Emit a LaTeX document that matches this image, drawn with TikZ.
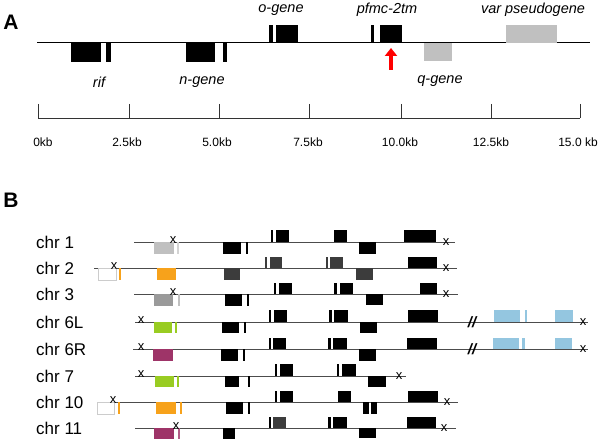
\documentclass[tikz,border=0pt]{standalone}
\usepackage{fontspec}
\setmainfont{Liberation Sans}
\usepackage{tikz}
\usetikzlibrary{arrows.meta, positioning}

\definecolor{lgray}{HTML}{C0C0C0}
\definecolor{mgray}{HTML}{9A9A9A}
\definecolor{dgray}{HTML}{3C3C3C}
\definecolor{orng}{HTML}{F7A21B}
\definecolor{grn}{HTML}{99CC22}
\definecolor{mrn}{HTML}{9E3468}
\definecolor{lblue}{HTML}{94C6E0}
\definecolor{redarrow}{HTML}{FF0000}

\begin{document}
\begin{tikzpicture}[x=1pt, y=-1pt, >=stealth,
    panel/.style={font=\fontsize{21}{24}\selectfont\bfseries, inner sep=0pt},
    glabel/.style={font=\fontsize{14.5}{17}\selectfont\itshape, inner sep=0pt},
    kb/.style={font=\fontsize{12}{14}\selectfont, inner sep=0pt},
    chrlabel/.style={anchor=west, inner sep=0pt, font=\fontsize{17}{20}\selectfont},
    chrline/.style={draw=black!70, line width=0.9pt},
    xmark/.style={inner sep=0pt, font=\fontsize{13}{15}\selectfont},
    brk/.style={inner sep=0pt, font=\fontsize{15}{17}\selectfont\bfseries\itshape},
    endbox/.style={draw=black!20, fill=white, line width=0.6pt}]

        \useasboundingbox (0,0) rectangle (600,441);

        % ==========================================
        % PANEL A: gene map of the locus
        % ==========================================
        \node[panel] (labA) at (11,22) {A};

        % Backbone
        \coordinate (gs) at (37,43);
        \coordinate (ge) at (590,43);
        \draw[line width=1pt] (gs) -- (ge);

        % rif (below)
        \fill (71,43) rectangle (101,62);
        \fill (106,43) rectangle (111,62);
        \node[glabel] (rif) at (99,82) {rif};

        % n-gene (below)
        \fill (186,43) rectangle (215,62);
        \fill (223,43) rectangle (227,62);
        \node[glabel] (ngene) at (202,82) {n-gene};

        % o-gene (above)
        \fill (269,25) rectangle (273,43);
        \fill (276,25) rectangle (298,43);
        \node[glabel] (ogene) at (281,10) {o-gene};

        % pfmc-2tm (above)
        \fill (371,25) rectangle (374,43);
        \fill (380,25) rectangle (402,43);
        \node[glabel] (pfmc) at (387,10) {pfmc-2tm};

        % Red marker arrow
        \coordinate (arrtail) at (391,70);
        \coordinate (arrtip) at (391,48);
        \draw[redarrow, line width=4.5pt, -{Triangle[width=12pt,length=8pt]}] (arrtail) -- (arrtip);

        % q-gene (below)
        \fill[lgray] (424,43) rectangle (452,61);
        \node[glabel] (qgene) at (440,81) {q-gene};

        % var pseudogene (above)
        \fill[lgray] (506,25) rectangle (557,43);
        \node[glabel] (varps) at (533,10) {var pseudogene};

        % Scale bar
        \draw[black!80, line width=0.8pt] (38,118) -- (580,118);
        \draw[black!80, line width=0.8pt] (38,104) -- (38,118);
        \draw[black!80, line width=0.8pt] (129,104) -- (129,118);
        \draw[black!80, line width=0.8pt] (219,104) -- (219,118);
        \draw[black!80, line width=0.8pt] (309,104) -- (309,118);
        \draw[black!80, line width=0.8pt] (401,104) -- (401,118);
        \draw[black!80, line width=0.8pt] (491,104) -- (491,118);
        \draw[black!80, line width=0.8pt] (580,104) -- (580,118);
        \node[kb] (kb0) at (43,142) {0kb};
        \node[kb] (kb25) at (127,142) {2.5kb};
        \node[kb] (kb50) at (217,142) {5.0kb};
        \node[kb] (kb75) at (308,142) {7.5kb};
        \node[kb] (kb100) at (400,142) {10.0kb};
        \node[kb] (kb125) at (491,142) {12.5kb};
        \node[kb] (kb150) at (578,142) {15.0 kb};

        % ==========================================
        % PANEL B: copies on the chromosomes
        % ==========================================
        \node[panel] (labB) at (11,200) {B};

        % chr 1
        \node[chrlabel] (c1) at (36,242) {chr 1};
        \draw[chrline] (134,242) -- (455,242);
        \fill[lgray] (154,242) rectangle (174,254);
        \fill[lgray!70] (177,242) rectangle (179,254);
        \fill (223,242) rectangle (241,254);
        \fill (246,242) rectangle (248,254);
        \fill (271,230) rectangle (273,242);
        \fill (276,230) rectangle (289,242);
        \fill (334,230) rectangle (347,242);
        \fill (359,242) rectangle (376,254);
        \fill (404,230) rectangle (436,242);
        \node[xmark] (c1xa) at (173,240) {x};
        \node[xmark] (c1xb) at (446,242) {x};

        % chr 2
        \node[chrlabel] (c2) at (36,268) {chr 2};
        \draw[chrline] (94,268) -- (457,268);
        \draw[endbox] (98,268) rectangle (116,280);
        \fill[orng] (119,268) rectangle (121,280);
        \fill[orng] (157,268) rectangle (176,280);
        \fill[dgray] (224,268) rectangle (240,280);
        \fill[dgray] (265,257) rectangle (267,268);
        \fill[dgray] (270,257) rectangle (282,268);
        \fill[dgray] (326,257) rectangle (328,268);
        \fill[dgray] (330,257) rectangle (343,268);
        \fill[dgray] (356,268) rectangle (373,280);
        \fill (408,257) rectangle (437,268);
        \node[xmark] (c2xa) at (114,266) {x};
        \node[xmark] (c2xb) at (446,268) {x};

        % chr 3
        \node[chrlabel] (c3) at (36,294) {chr 3};
        \draw[chrline] (134,294) -- (458,294);
        \fill[mgray] (154,294) rectangle (173,306);
        \fill[lgray] (178,294) rectangle (179.5,306);
        \fill (225,294) rectangle (242,306);
        \fill (247,294) rectangle (249,306);
        \fill (274,283) rectangle (276,294);
        \fill (279,283) rectangle (292,294);
        \fill (334,283) rectangle (336.5,294);
        \fill (340,283) rectangle (353,294);
        \fill (366,294) rectangle (383,305);
        \fill (420,283) rectangle (437,294);
        \node[xmark] (c3xa) at (173,292) {x};
        \node[xmark] (c3xb) at (446,294) {x};

        % chr 6L
        \node[chrlabel] (c6l) at (36,322) {chr 6L};
        \draw[chrline] (135,322) -- (588,322);
        \fill[grn] (154,322) rectangle (172,333);
        \fill[grn] (175,322) rectangle (177,333);
        \fill (222,322) rectangle (239,333);
        \fill (244,322) rectangle (246,333);
        \fill (269,310) rectangle (271,322);
        \fill (274,310) rectangle (287,322);
        \fill (329,310) rectangle (331.5,322);
        \fill (334,310) rectangle (348,322);
        \fill (360,322) rectangle (377,333);
        \fill (408,310) rectangle (438,322);
        \fill[lblue] (494,310) rectangle (520,322);
        \fill[lblue] (525,310) rectangle (527,322);
        \fill[lblue] (555,310) rectangle (573,322);
        \node[brk] (c6lbrk) at (472,322) {//};
        \node[xmark] (c6lxa) at (141,320) {x};
        \node[xmark] (c6lxb) at (583,322) {x};

        % chr 6R
        \node[chrlabel] (c6r) at (36,349) {chr 6R};
        \draw[chrline] (133,349) -- (588,349);
        \fill[mrn] (153,349) rectangle (173,361);
        \fill (221,349) rectangle (238,361);
        \fill (243,349) rectangle (245,361);
        \fill (269,338) rectangle (271,349);
        \fill (273,338) rectangle (286,349);
        \fill (328,338) rectangle (330.5,349);
        \fill (333,338) rectangle (347,349);
        \fill (359,349) rectangle (376,361);
        \fill (407,338) rectangle (437,349);
        \fill[lblue] (493,338) rectangle (519,349);
        \fill[lblue] (522,338) rectangle (525,349);
        \fill[lblue] (555,338) rectangle (572,349);
        \node[brk] (c6rbrk) at (472,349) {//};
        \node[xmark] (c6rxa) at (141,347) {x};
        \node[xmark] (c6rxb) at (583,349) {x};

        % chr 7
        \node[chrlabel] (c7) at (36,376) {chr 7};
        \draw[chrline] (135,376) -- (406,376);
        \fill[grn] (155,376) rectangle (174,387);
        \fill[grn] (177,376) rectangle (179,387);
        \fill (225,376) rectangle (239,387);
        \fill (248,376) rectangle (250,387);
        \fill (275,364) rectangle (277,376);
        \fill (280,364) rectangle (293,376);
        \fill (337,364) rectangle (339,376);
        \fill (342,364) rectangle (356,376);
        \fill (368,376) rectangle (386,387);
        \node[xmark] (c7xa) at (141,374) {x};
        \node[xmark] (c7xb) at (399,376) {x};

        % chr 10
        \node[chrlabel] (c10) at (36,402) {chr 10};
        \draw[chrline] (97,402) -- (458,402);
        \draw[endbox] (97,402) rectangle (114,414);
        \fill[orng] (118,402) rectangle (120,414);
        \fill[orng] (156,402) rectangle (176,414);
        \fill[orng] (180,402) rectangle (182,414);
        \fill (226,402) rectangle (243,414);
        \fill (248,402) rectangle (250,414);
        \fill (275,391) rectangle (277,402);
        \fill (280,391) rectangle (293,402);
        \fill (338,391) rectangle (351,402);
        \fill (363,402) rectangle (369,414);
        \fill (371,402) rectangle (377,414);
        \fill (408,391) rectangle (438,402);
        \node[xmark] (c10xa) at (113,400) {x};
        \node[xmark] (c10xb) at (447,402) {x};

        % chr 11
        \node[chrlabel] (c11) at (36,428) {chr 11};
        \draw[chrline] (135,428) -- (456,428);
        \fill[mrn] (154,428) rectangle (174,439);
        \fill[mrn!80] (178,428) rectangle (180,439);
        \fill (223,428) rectangle (235,439);
        \fill (269,417) rectangle (271,428);
        \fill[dgray] (273,417) rectangle (286,428);
        \fill (328,417) rectangle (330.5,428);
        \fill (333,417) rectangle (347,428);
        \fill (359,428) rectangle (376,438);
        \fill (407,417) rectangle (436,428);
        \node[xmark] (c11xa) at (176,426) {x};
        \node[xmark] (c11xb) at (444,428) {x};

\end{tikzpicture}
\end{document}
